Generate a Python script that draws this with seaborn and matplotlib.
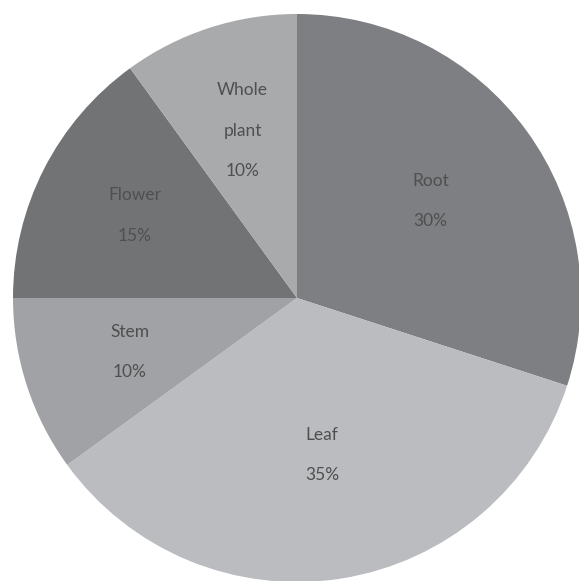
import matplotlib
matplotlib.use("Agg")
import matplotlib.pyplot as plt
import seaborn as sns
import numpy as np

sns.set_style("white")
plt.rcParams['font.family'] = ['Lato', 'DejaVu Sans']

categories = ["Root", "Leaf", "Stem", "Flower", "Whole\nplant"]
values = [30, 35, 10, 15, 10]
colors = ["#7d7f82", "#babcbf", "#a0a2a5", "#717375", "#a9aaac"]
label_dist = [0.58, 0.56, 0.62, 0.64, 0.62]

labels = [f"{c}\n{v}%" for c, v in zip(categories, values)]

fig = plt.figure(figsize=(5.79, 5.81), dpi=100)
ax = fig.add_axes([13/579, -1/581, 568/579, 568/581])
wedges, texts = ax.pie(values, labels=labels, colors=colors, startangle=90,
                       counterclock=False, labeldistance=0.6,
                       wedgeprops=dict(linewidth=0),
                       textprops=dict(fontsize=12.5, color="#4f4f4f",
                                      ha="center", va="center", linespacing=2.85))
for w, t, d in zip(wedges, texts, label_dist):
    ang = np.deg2rad((w.theta1 + w.theta2) / 2)
    t.set_position((d * np.cos(ang), d * np.sin(ang)))
ax.set_xlim(-1, 1)
ax.set_ylim(-1, 1)
ax.set_aspect('auto')
ax.axis('off')
fig.savefig("out.png", dpi=100)
